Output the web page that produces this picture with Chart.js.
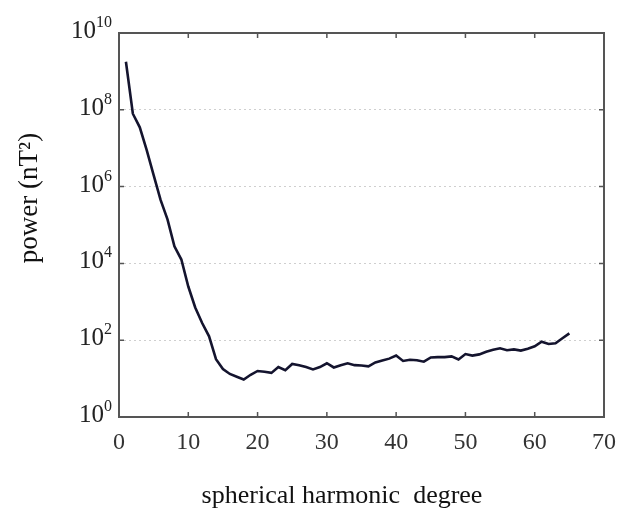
<!DOCTYPE html>
<html>
<head>
<meta charset="utf-8">
<script src="https://cdn.jsdelivr.net/npm/chart.js@4.4.0/dist/chart.umd.min.js"></script>
<style>
  body { margin: 0; background: #fff; }
</style>
</head>
<body>
<canvas id="myChart" width="619" height="509"></canvas>
<script>
var degrees = [1, 2, 3, 4, 5, 6, 7, 8, 9, 10,
    11, 12, 13, 14, 15, 16, 17, 18, 19, 20,
    21, 22, 23, 24, 25, 26, 27, 28, 29, 30,
    31, 32, 33, 34, 35, 36, 37, 38, 39, 40,
    41, 42, 43, 44, 45, 46, 47, 48, 49, 50,
    51, 52, 53, 54, 55, 56, 57, 58, 59, 60,
    61, 62, 63, 64, 65];

var power = [1.78e9, 7.9e7, 3.5e7, 8.9e6, 2.0e6, 4.5e5, 1.4e5, 2.8e4, 1.26e4, 2.5e3,
    710, 280, 126, 32, 17.8, 13.2, 11.2, 9.5, 12.6, 15.8,
    15.1, 14.1, 20, 16.6, 24, 22.4, 20, 17.4, 20, 25.1,
    19.5, 22.4, 25.1, 22.4, 21.9, 20.9, 26.3, 29.5, 33.1, 39.8,
    28.8, 30.9, 30.2, 27.5, 35.5, 36.3, 36.3, 38, 31.6, 43.6,
    39.8, 42.7, 50.1, 56.2, 61.7, 55, 57.5, 53.7, 60.3, 69.2,
    91.2, 79.4, 83.2, 112, 151];

var xTicks = [0, 10, 20, 30, 40, 50, 60, 70];
var yTicks = [1, 1e2, 1e4, 1e6, 1e8, 1e10];
var yTickBase = "10";
var yTickExp = ["0", "2", "4", "6", "8", "10"];

var serif = "'Liberation Serif', 'DejaVu Serif', serif";

// box round the plot with little inward ticks, and the 10^n labels
var framePlugin = {
    id: 'frame',
    afterDraw: function (chart) {
        var ctx = chart.ctx;
        var a = chart.chartArea;
        var xs = chart.scales.x;
        var ys = chart.scales.y;
        ctx.save();
        ctx.strokeStyle = "#555";
        ctx.lineWidth = 2;
        ctx.strokeRect(a.left, a.top, a.right - a.left, a.bottom - a.top);
        ctx.lineWidth = 1.5;
        ctx.beginPath();
        for (var i = 1; i < xTicks.length - 1; i++) {
            var px = xs.getPixelForValue(xTicks[i]);
            ctx.moveTo(px, a.bottom);
            ctx.lineTo(px, a.bottom - 5);
            ctx.moveTo(px, a.top);
            ctx.lineTo(px, a.top + 5);
        }
        for (var j = 1; j < yTicks.length - 1; j++) {
            var py = ys.getPixelForValue(yTicks[j]);
            ctx.moveTo(a.left, py);
            ctx.lineTo(a.left + 5, py);
            ctx.moveTo(a.right, py);
            ctx.lineTo(a.right - 5, py);
        }
        ctx.stroke();

        // y labels with a real superscript
        ctx.fillStyle = "#222";
        ctx.textBaseline = "alphabetic";
        ctx.textAlign = "left";
        var right = a.left - 7;
        for (var k = 0; k < yTicks.length; k++) {
            var y = ys.getPixelForValue(yTicks[k]);
            ctx.font = "16px " + serif;
            var ew = ctx.measureText(yTickExp[k]).width;
            ctx.font = "25px " + serif;
            var bw = ctx.measureText(yTickBase).width;
            var x0 = right - ew - bw;
            ctx.fillText(yTickBase, x0, y + 5);
            ctx.font = "16px " + serif;
            ctx.fillText(yTickExp[k], x0 + bw, y - 6);
        }
        ctx.restore();
    }
};

var points = [];
for (var k = 0; k < degrees.length; k++) {
    points.push({ x: degrees[k], y: power[k] });
}

var ctx = document.getElementById("myChart");

new Chart(ctx, {
    type: 'line',
    data: {
        datasets: [{
            data: points,
            borderColor: "#14142e",
            borderWidth: 2.6,
            pointRadius: 0,
            tension: 0,
            fill: false
        }]
    },
    options: {
        responsive: false,
        animation: false,
        layout: { padding: { top: 33, right: 14, left: 0, bottom: 0 } },
        plugins: {
            legend: { display: false },
            tooltip: { enabled: false }
        },
        scales: {
            x: {
                type: 'linear',
                min: 0,
                max: 70,
                afterBuildTicks: function (scale) {
                    scale.ticks = xTicks.map(function (v) { return { value: v }; });
                },
                ticks: {
                    color: "#333",
                    font: { family: serif, size: 24 },
                    padding: 3,
                    maxRotation: 0
                },
                grid: { display: false },
                border: { display: false },
                title: {
                    display: true,
                    text: "spherical harmonic  degree\u2003\u2002",
                    color: "#111",
                    font: { family: serif, size: 26, lineHeight: 1 },
                    padding: { top: 0, bottom: 0 }
                },
                afterFit: function (scale) { scale.height = 92; }
            },
            y: {
                type: 'logarithmic',
                min: 1,
                max: 1e10,
                afterBuildTicks: function (scale) {
                    scale.ticks = yTicks.map(function (v) { return { value: v }; });
                },
                ticks: { display: false },
                grid: {
                    drawTicks: false,
                    color: function (c) {
                        if (c.index === 0 || c.index === yTicks.length - 1) return "rgba(0,0,0,0)";
                        return "#cfcfcf";
                    },
                    lineWidth: 1
                },
                border: { display: false, dash: [2, 3] },
                title: {
                    display: true,
                    text: "\u2003\u2003power (nT\u00b2)",
                    color: "#111",
                    font: { family: serif, size: 27, lineHeight: 1.2 },
                    padding: { top: 14, bottom: 0 }
                },
                afterFit: function (scale) { scale.width = 119; }
            }
        }
    },
    plugins: [framePlugin]
});
</script>
</body>
</html>
